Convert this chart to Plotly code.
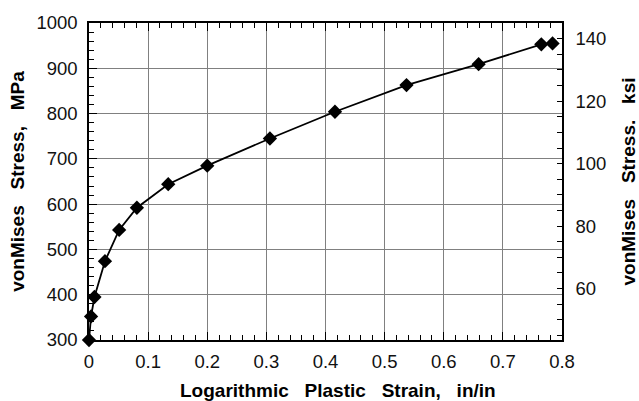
import plotly.graph_objects as go

strain = [0.0, 0.0035, 0.0092, 0.027, 0.051, 0.081, 0.134, 0.200, 0.306, 0.416, 0.537, 0.659, 0.765, 0.784]
stress_mpa = [300, 352, 395, 474, 543, 592, 644, 685, 745, 804, 863, 909, 953, 955]

x_ticks = [0, 0.1, 0.2, 0.3, 0.4, 0.5, 0.6, 0.7, 0.8]
x_labels = ["0", "0.1", "0.2", "0.3", "0.4", "0.5", "0.6", "0.7", "0.8"]
y_ticks = [300, 400, 500, 600, 700, 800, 900, 1000]
ksi_ticks = [60, 80, 100, 120, 140]

MPA_PER_KSI = 6.894757
y_range = [300, 1000]

NB = "\u00a0" * 3
x_title = f"Logarithmic{NB}Plastic{NB}Strain,{NB}in/in"
y_title = f"vonMises{NB}Stress,{NB}MPa"
y2_title = f"vonMises{NB}Stress.{NB}ksi"

FONT = "Liberation Sans, Arial, sans-serif"
TICK_SIZE = 18.5
TITLE_SIZE = 19

fig = go.Figure()
fig.add_trace(go.Scatter(
    x=strain, y=stress_mpa, mode="lines+markers",
    line=dict(color="black", width=1.8),
    marker=dict(symbol="diamond", size=11, color="black"),
    cliponaxis=False, showlegend=False,
))
# invisible trace to activate the right axis
fig.add_trace(go.Scatter(
    x=[strain[0]], y=[stress_mpa[0] / MPA_PER_KSI], yaxis="y2",
    mode="markers", marker=dict(opacity=0), showlegend=False, hoverinfo="skip",
))

fig.update_layout(
    width=639, height=401,
    margin=dict(l=89, r=77, t=23, b=61),
    paper_bgcolor="white", plot_bgcolor="white",
    font=dict(family=FONT, size=TICK_SIZE, color="#111111"),
    xaxis=dict(
        range=[0, 0.8], tickvals=x_ticks, ticktext=x_labels, automargin=False,
        ticks="inside", ticklen=8, tickwidth=1, tickcolor="black",
        showline=True, linecolor="black", linewidth=1.5, mirror="ticks",
        showgrid=True, gridcolor="#808080", gridwidth=1, zeroline=False,
        minor=dict(dtick=0.02, tick0=0, ticks="inside", ticklen=5, tickcolor="black", showgrid=False),
        tickfont=dict(size=TICK_SIZE), ticklabelstandoff=4,
    ),
    yaxis=dict(
        range=y_range, tickvals=y_ticks, automargin=False,
        ticks="inside", ticklen=8, tickwidth=1, tickcolor="black",
        showline=True, linecolor="black", linewidth=1.5, mirror=False,
        showgrid=True, gridcolor="#808080", gridwidth=1, zeroline=False,
        minor=dict(dtick=20, tick0=300, ticks="inside", ticklen=5, tickcolor="black", showgrid=False),
        tickfont=dict(size=TICK_SIZE), ticklabelstandoff=6,
        title=dict(text=y_title, font=dict(size=TITLE_SIZE, weight="bold", color="black"), standoff=7),
    ),
    yaxis2=dict(
        overlaying="y", side="right", automargin=False,
        range=[y_range[0] / MPA_PER_KSI, y_range[1] / MPA_PER_KSI],
        tickvals=ksi_ticks,
        ticks="inside", ticklen=5, tickwidth=1, tickcolor="black",
        showline=True, linecolor="black", linewidth=1.5,
        showgrid=False, zeroline=False,
        minor=dict(dtick=5, tick0=0, ticks="inside", ticklen=5, tickcolor="black", showgrid=False),
        tickfont=dict(size=TICK_SIZE), ticklabelstandoff=8,
        title=dict(text=y2_title, font=dict(size=TITLE_SIZE, weight="bold", color="black"), standoff=17),
    ),
    annotations=[dict(
        text=x_title, xref="paper", yref="paper", x=0.527, y=-0.158,
        xanchor="center", yanchor="middle", showarrow=False,
        font=dict(family=FONT, size=TITLE_SIZE, weight="bold", color="black"),
    )],
)

fig.write_html("out.html")
